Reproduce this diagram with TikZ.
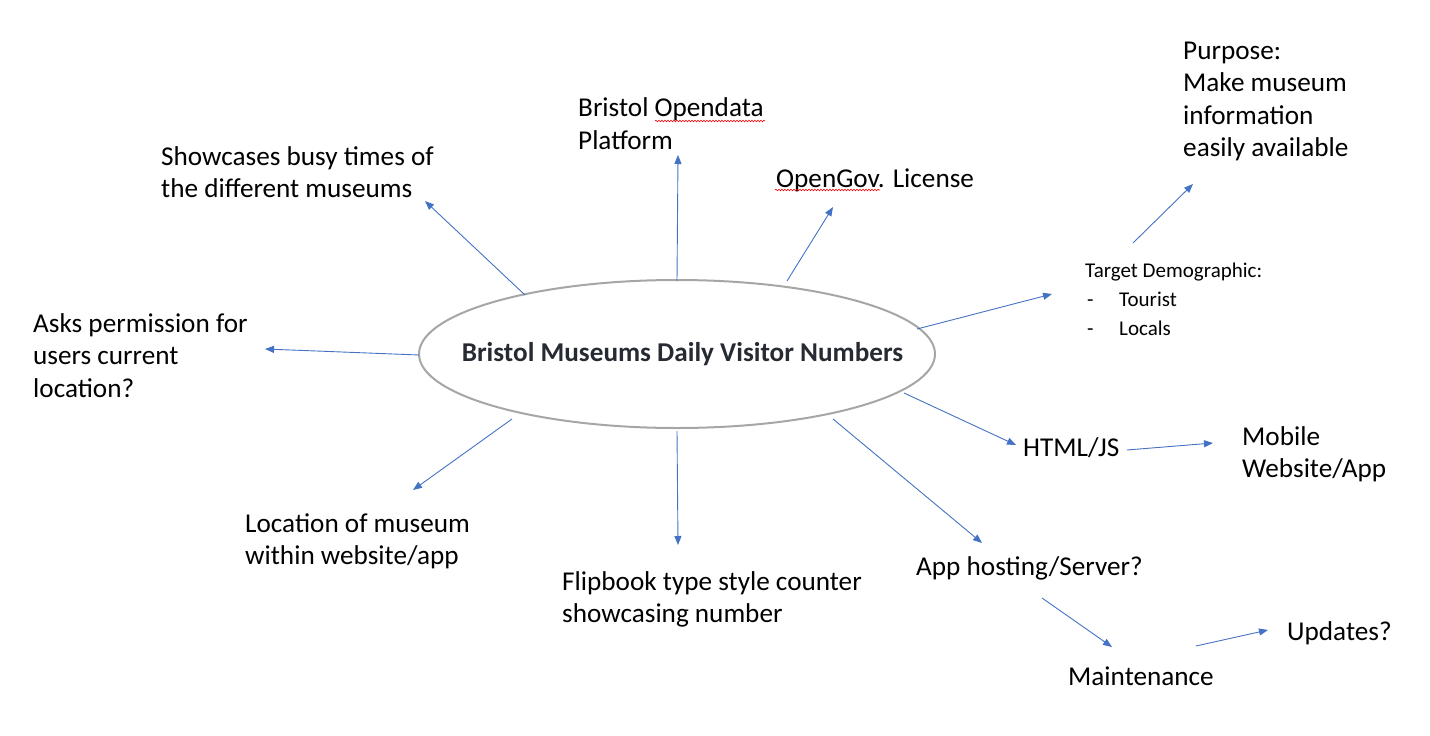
\documentclass[tikz,border=0pt]{standalone}
\usepackage{fontspec}
\setmainfont{Carlito}
\usetikzlibrary{arrows.meta,decorations.pathmorphing,shapes.geometric}
\definecolor{arrowblue}{HTML}{4472C4}
\definecolor{ellgray}{HTML}{A6A6A6}
\definecolor{titlecol}{HTML}{262B33}
\tikzset{
  lbl/.style={anchor=base west,inner sep=0pt,align=left,font=\fontsize{27.2}{32.5}\selectfont},
  small/.style={anchor=base west,inner sep=0pt,align=left,font=\fontsize{21}{29}\selectfont},
  link/.style={draw=arrowblue,line width=0.9pt,-{Triangle[length=9pt,width=7pt]}},
  squig/.style={draw=red,line width=0.6pt,decorate,decoration={snake,amplitude=0.8pt,segment length=3pt}}
}
\begin{document}
\begin{tikzpicture}[x=1pt,y=-1pt]
\useasboundingbox (0,0) rectangle (1430,736);
\node[draw=ellgray,line width=2pt,ellipse,minimum width=516pt,minimum height=148pt,inner sep=0pt] (c) at (677,354) {};
\node[anchor=base,inner sep=0pt,font=\fontsize{27.2}{32}\selectfont\bfseries,text=titlecol] (title) at (682.5,361) {Bristol Museums Daily Visitor Numbers};

% multi-line nodes: anchor point is the baseline of the last line
\node[lbl] (show) at (161,197.5) {Showcases busy times of\\the different museums};
\node[lbl] (bod) at (578,149) {Bristol Opendata\\Platform};
\node[lbl] (ogl) at (776,187) {OpenGov. License};
\node[lbl] (purp) at (1183,156.5) {Purpose:\\Make museum\\information\\easily available};
\node[small] (tgt) at (1085,277) {Target Demographic:};
\node[small] (d1) at (1087,306) {-};
\node[small] (tour) at (1119,306) {Tourist};
\node[small] (d2) at (1087,335) {-};
\node[small] (loc) at (1119,335) {Locals};
\node[lbl] (ask) at (33,397) {Asks permission for\\users current\\location?};
\node[lbl] (locm) at (245,564.5) {Location of museum\\within website/app};
\node[lbl] (flip) at (562,622.5) {Flipbook type style counter\\showcasing number};
\node[lbl] (host) at (916,575) {App hosting/Server?};
\node[lbl] (html) at (1023,456) {HTML/JS};
\node[lbl] (mob) at (1242,477.5) {Mobile\\Website/App};
\node[lbl] (maint) at (1068,685) {Maintenance};
\node[lbl] (upd) at (1287,640) {Updates?};

\coordinate (s1) at (525,295); \coordinate (e1) at (425,201);
\coordinate (s2) at (677,281); \coordinate (e2) at (678,155);
\coordinate (s3) at (787,281); \coordinate (e3) at (833,207);
\coordinate (s4) at (1133,243); \coordinate (e4) at (1193,184);
\coordinate (s5) at (917,329); \coordinate (e5) at (1052,294);
\coordinate (s6) at (419,355); \coordinate (e6) at (265,349);
\coordinate (s7) at (512,419); \coordinate (e7) at (413,490);
\coordinate (s8) at (677,431); \coordinate (e8) at (678,545);
\coordinate (s9) at (904,393); \coordinate (e9) at (1016,445);
\coordinate (s10) at (1127,450); \coordinate (e10) at (1213,443);
\coordinate (s11) at (833,419); \coordinate (e11) at (982,543);
\coordinate (s12) at (1042,598); \coordinate (e12) at (1112,647);
\coordinate (s13) at (1196,646); \coordinate (e13) at (1268,630);

\foreach \i in {1,...,13} \draw[link] (s\i) -- (e\i);

\coordinate (q1a) at (655,121); \coordinate (q1b) at (765,121);
\coordinate (q2a) at (775,190); \coordinate (q2b) at (880,190);
\draw[squig] (q1a) -- (q1b);
\draw[squig] (q2a) -- (q2b);
\end{tikzpicture}
\end{document}
